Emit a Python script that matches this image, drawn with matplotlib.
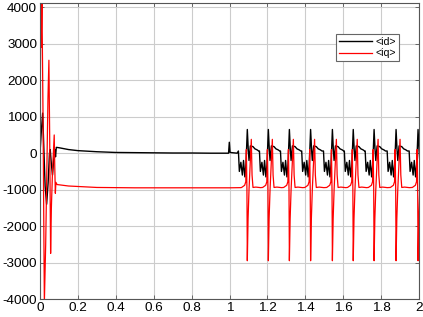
import numpy as np
import matplotlib
matplotlib.use("Agg")
import matplotlib.pyplot as plt
from matplotlib.ticker import FormatStrFormatter

plt.rcParams["font.family"] = ["Liberation Sans", "DejaVu Sans"]
plt.rcParams["axes.unicode_minus"] = False

# start-up transient and steady part
t_head_id = [0.0, 0.007, 0.014, 0.020, 0.027, 0.035, 0.043, 0.050, 0.054, 0.060,
             0.066, 0.072, 0.078, 0.082, 0.086, 0.10, 0.15, 0.20, 0.30, 0.40,
             0.50, 0.60, 0.70, 0.80, 0.90, 0.995, 0.999, 1.003, 1.040]
id_head = [0, 600, 1100, 200, -900, -1400, -800, 0, 100, -300,
           -600, -200, 100, -100, 160, 150, 100, 70, 40, 20,
           15, 10, 5, 5, 0, 0, 300, 20, 0]

t_head_iq = [0.0, 0.003, 0.006, 0.010, 0.016, 0.023, 0.030, 0.036, 0.042, 0.047,
             0.051, 0.056, 0.060, 0.066, 0.072, 0.075, 0.078, 0.081, 0.084, 0.090,
             0.15, 0.30, 0.50, 0.80, 1.00, 1.06]
iq_head = [0, 3300, 2900, 4300, 1000, -4100, -2500, -500, 1500, 2550,
           500, -2750, -1500, -500, 200, 500, -400, -1100, -800, -860,
           -900, -940, -950, -950, -950, -945]

# times of the id peaks in the oscillating part (t > 1 s)
peak_times = [1.094, 1.205, 1.316, 1.428, 1.543, 1.653, 1.763, 1.879, 1.995]

# shape of one oscillation, offsets from the id peak
id_cycle_dt = [-0.047, -0.042, -0.034, -0.026, -0.020, -0.013, -0.007, 0.0,
               0.005, 0.009, 0.016, 0.030, 0.040, 0.052, 0.060]
id_cycle = [60, -500, -250, -600, -200, -650, -300, 650,
            100, -200, 200, 180, 120, 90, 60]

iq_cycle_dt = [-0.030, -0.014, -0.008, -0.005, -0.002, 0.0, 0.004, 0.009,
               0.015, 0.021, 0.025, 0.030, 0.045, 0.070]
iq_cycle = [-940, -880, -780, 100, -1000, -2950, -1800, -1000,
            -300, 380, -600, -940, -930, -945]


def build(t_head, v_head, dts, vals):
    t = list(t_head)
    v = list(v_head)
    for tp in peak_times:
        for dt, val in zip(dts, vals):
            if tp + dt > t[-1]:
                t.append(tp + dt)
                v.append(val)
    return np.array(t), np.array(v)


t_id, id_vals = build(t_head_id, id_head, id_cycle_dt, id_cycle)
t_iq, iq_vals = build(t_head_iq, iq_head, iq_cycle_dt, iq_cycle)

fig = plt.figure(figsize=(4.23, 3.17), dpi=100)
ax = fig.add_axes([40 / 423, 1 - 299 / 317, 379 / 423, 296 / 317])

ax.plot(t_id, id_vals, color="black", linewidth=1.0, label="<id>")
ax.plot(t_iq, iq_vals, color="red", linewidth=0.9, label="<iq>")

ax.set_xlim(0, 2)
ax.set_ylim(-4000, 4120)
ax.set_xticks(np.arange(0, 2.01, 0.2))
ax.set_yticks(np.arange(-4000, 4001, 1000))
ax.xaxis.set_major_formatter(FormatStrFormatter("%g"))
ax.yaxis.set_major_formatter(FormatStrFormatter("%g"))
ax.grid(True, color="#cccccc", linewidth=0.8)
ax.set_axisbelow(True)
ax.tick_params(direction="in", length=3, width=0.6, colors="#555555",
               labelcolor="black", labelsize=9.7, top=True, right=True, pad=2)
for s in ax.spines.values():
    s.set_color("#555555")
    s.set_linewidth(0.8)

leg = ax.legend(loc="upper left", bbox_to_anchor=(336 / 423, 1 - 34 / 317),
                bbox_transform=fig.transFigure, fontsize=7.6, handlelength=3.2,
                fancybox=False, framealpha=1, edgecolor="#666666",
                borderpad=0.25, labelspacing=0.15, handletextpad=0.3,
                borderaxespad=0)
leg.get_frame().set_linewidth(0.8)

fig.savefig("out.png", dpi=100)
